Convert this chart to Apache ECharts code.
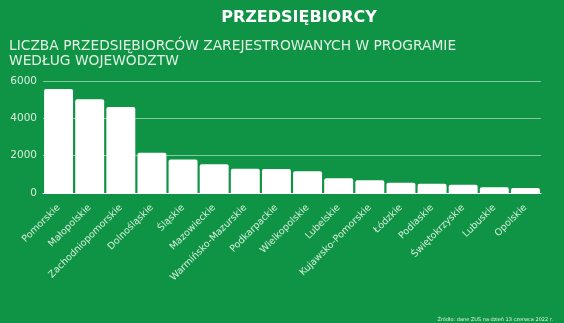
<!DOCTYPE html>
<html>
<head>
<meta charset="utf-8">
<script src="https://cdn.jsdelivr.net/npm/echarts@6/dist/echarts.min.js"></script>
<style>
  html, body { margin: 0; padding: 0; background: #0f9345; }
  #chart { width: 564px; height: 323px; }
</style>
</head>
<body>
<div id="chart"></div>
<script>
// wojewodztwa, sorted like in the source
const regions = ['Pomorskie', 'Małopolskie', 'Zachodniopomorskie', 'Dolnośląskie', 'Śląskie',
  'Mazowieckie', 'Warmińsko-Mazurskie', 'Podkarpackie', 'Wielkopolskie', 'Lubelskie',
  'Kujawsko-Pomorskie', 'Łódzkie', 'Podlaskie', 'Świętokrzyskie', 'Lubuskie', 'Opolskie'];
const counts = [5570, 5020, 4610, 2160, 1790, 1540, 1300, 1285, 1160, 790, 680, 555, 500, 445, 305, 270];
const yTicks = [0, 2000, 4000, 6000];

const font = '"DejaVu Sans", sans-serif';
const chart = echarts.init(document.getElementById('chart'));

chart.setOption({
    backgroundColor: '#0f9345',
    animation: false,
    title: [{
        text: 'PRZEDSIĘBIORCY',
        left: 294,
        top: 5,
        textAlign: 'center',
        textStyle: { color: '#fff', fontFamily: font, fontWeight: 'bold', fontSize: 16 }
    }, {
        text: 'LICZBA PRZEDSIĘBIORCÓW ZAREJESTROWANYCH W PROGRAMIE\nWEDŁUG WOJEWÓDZTW',
        left: 4,
        top: 34,
        textStyle: { color: '#e3f2e6', fontFamily: font, fontWeight: 'normal', fontSize: 13.8, lineHeight: 15 }
    }, {
        text: 'Źródło: dane ZUS na dzień 13 czerwca 2022 r.',
        right: 6,
        top: 312,
        textStyle: { color: '#e6f4e9', fontFamily: font, fontWeight: 'normal', fontSize: 5 }
    }],
    grid: { left: 43, right: 23, top: 81, bottom: 130 },
    xAxis: {
        type: 'category',
        data: regions,
        axisLine: { show: true, lineStyle: { color: '#ffffff', width: 1 } },
        axisTick: { show: false },
        axisLabel: {
            interval: 0,
            rotate: 45,
            margin: 13,
            color: '#d6eedb',
            fontFamily: font,
            fontSize: 9.5
        }
    },
    yAxis: {
        type: 'value',
        min: yTicks[0],
        max: yTicks[yTicks.length - 1],
        interval: 2000,
        axisLine: { show: false },
        axisTick: { show: false },
        axisLabel: {
            color: '#d6eedb', fontFamily: font, fontSize: 10.5, margin: 6,
            formatter: v => String(v)
        },
        splitLine: { lineStyle: { color: 'rgba(255,255,255,0.5)', width: 1 } }
    },
    series: [{
        type: 'bar',
        data: counts,
        barCategoryGap: '7%',
        itemStyle: { color: '#ffffff', borderRadius: [2, 2, 0, 0] }
    }]
});
</script>
</body>
</html>
